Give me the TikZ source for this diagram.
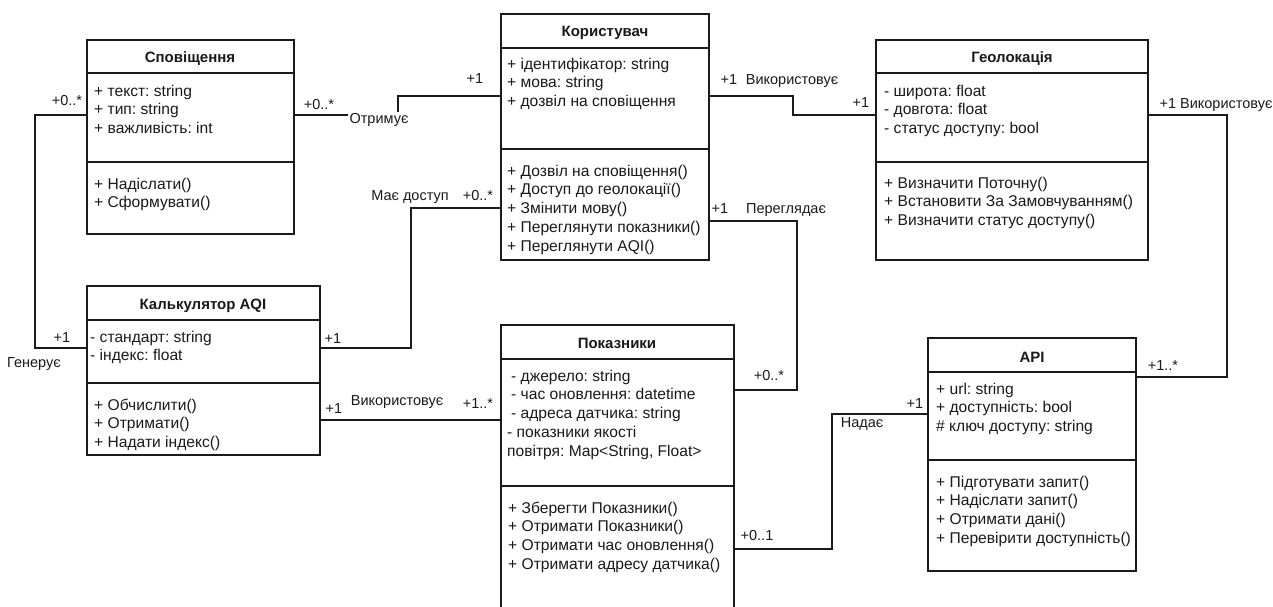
\documentclass[tikz,border=0pt]{standalone}
\usepackage{fontspec}
\setmainfont{Liberation Sans}
\definecolor{ink}{HTML}{1A1A1A}
\frenchspacing
\begin{document}
\begin{tikzpicture}[x=1pt,y=-1pt,
  classbox/.style={draw=ink, line width=1.1pt, fill=white, anchor=north west, inner sep=0pt, outer sep=0pt},
  sep/.style={draw=ink, line width=1.1pt},
  conn/.style={draw=ink, line width=1.1pt},
  title/.style={anchor=base, inner sep=0pt, font=\fontsize{15}{18.8}\selectfont\bfseries, text=ink},
  members/.style={anchor=north west, inner sep=0pt, align=left, font=\fontsize{15.6}{18.8}\selectfont\frenchspacing, text=ink},
  mult/.style={anchor=base, inner sep=0.5pt, font=\fontsize{14.5}{17}\selectfont, text=ink},
]
\fill[white] (0,0) rectangle (1273,607);
\useasboundingbox (0,0) rectangle (1273,607);

% ---------- classes ----------
% Сповіщення
\node[classbox, minimum width=207pt, minimum height=194pt] (spov) at (87,40) {};
\draw[sep] (spov.west |- 0,73) -- (spov.east |- 0,73);
\draw[sep] (spov.west |- 0,162) -- (spov.east |- 0,162);
\node[title] (spov-t) at (190,63) {Сповіщення};
\node[members] (spov-a) at (94,82.8) {\strut+ текст: string\\\strut+ тип: string\\\strut+ важливість: int};
\node[members] (spov-m) at (94,175.8) {\strut+ Надіслати()\\\strut+ Сформувати()};

% Користувач
\node[classbox, minimum width=208pt, minimum height=246pt] (user) at (501,14) {};
\draw[sep] (user.west |- 0,48) -- (user.east |- 0,48);
\draw[sep] (user.west |- 0,149) -- (user.east |- 0,149);
\node[title] (user-t) at (605,37) {Користувач};
\node[members] (user-a) at (507,55.8) {\strut+ ідентифікатор: string\\\strut+ мова: string\\\strut+ дозвіл на сповіщення};
\node[members] (user-m) at (507,162.8) {\strut+ Дозвіл на сповіщення()\\\strut+ Доступ до геолокації()\\\strut+ Змінити мову()\\\strut+ Переглянути показники()\\\strut+ Переглянути AQI()};

% Геолокація
\node[classbox, minimum width=272pt, minimum height=220pt] (geo) at (876,40) {};
\draw[sep] (geo.west |- 0,73) -- (geo.east |- 0,73);
\draw[sep] (geo.west |- 0,162) -- (geo.east |- 0,162);
\node[title] (geo-t) at (1012,63) {Геолокація};
\node[members] (geo-a) at (884,82.8) {\strut- широта: float\\\strut- довгота: float\\\strut- статус доступу: bool};
\node[members] (geo-m) at (884,174.8) {\strut+ Визначити Поточну()\\\strut+ Встановити За Замовчуванням()\\\strut+ Визначити статус доступу()};

% Калькулятор AQI
\node[classbox, minimum width=233pt, minimum height=169pt] (calc) at (87,286) {};
\draw[sep] (calc.west |- 0,320) -- (calc.east |- 0,320);
\draw[sep] (calc.west |- 0,383) -- (calc.east |- 0,383);
\node[title] (calc-t) at (203,309) {Калькулятор AQI};
\node[members] (calc-a) at (90,328.8) {\strut- стандарт: string\\\strut- індекс: float};
\node[members] (calc-m) at (94,396.8) {\strut+ Обчислити()\\\strut+ Отримати()\\\strut+ Надати індекс()};

% Показники
\node[classbox, minimum width=233pt, minimum height=283pt] (pok) at (501,325) {};
\draw[sep] (pok.west |- 0,359) -- (pok.east |- 0,359);
\draw[sep] (pok.west |- 0,486) -- (pok.east |- 0,486);
\node[title] (pok-t) at (617,348) {Показники};
\node[members] (pok-a) at (507,367.8) {\strut\hspace*{4pt}- джерело: string\\\strut\hspace*{4pt}- час оновлення: datetime\\\strut\hspace*{4pt}- адреса датчика: string\\\strut- показники якості\\\strut повітря: Map<String, Float>};
\node[members] (pok-m) at (508,499.8) {\strut+ Зберегти Показники()\\\strut+ Отримати Показники()\\\strut+ Отримати час оновлення()\\\strut+ Отримати адресу датчика()};

% API
\node[classbox, minimum width=208pt, minimum height=233pt] (api) at (928,338) {};
\draw[sep] (api.west |- 0,372) -- (api.east |- 0,372);
\draw[sep] (api.west |- 0,460) -- (api.east |- 0,460);
\node[title] (api-t) at (1032,362) {API};
\node[members] (api-a) at (936,380.8) {\strut+ url: string\\\strut+ доступність: bool\\\strut\# ключ доступу: string};
\node[members] (api-m) at (936,473.8) {\strut+ Підготувати запит()\\\strut+ Надіслати запит()\\\strut+ Отримати дані()\\\strut+ Перевірити доступність()};

% ---------- associations ----------
\draw[conn] (spov.west |- 0,115) -| (35,348) -- (calc.west |- 0,348);
\draw[conn] (spov.east |- 0,115) -| (398,96) -- (user.west |- 0,96);
\draw[conn] (user.west |- 0,208) -| (411,348) -- (calc.east |- 0,348);
\draw[conn] (calc.east |- 0,420) -- (pok.west |- 0,420);
\draw[conn] (user.east |- 0,96) -| (793,115) -- (geo.west |- 0,115);
\draw[conn] (user.east |- 0,221) -| (797,390) -- (pok.east |- 0,390);
\draw[conn] (geo.east |- 0,115) -| (1227,377) -- (api.east |- 0,377);
\draw[conn] (pok.east |- 0,549) -| (832,414) -- (api.west |- 0,414);

% ---------- multiplicities and roles ----------
\node[mult] (m1) at (67,106) {+0..*};
\node[mult] (m2) at (319,110) {+0..*};
\node[mult, fill=white, inner sep=1.5pt] (m3) at (379,124) {Отримує};
\node[mult] (m4) at (475,84) {+1};
\node[mult] (m5) at (410,200) {Має доступ};
\node[mult] (m6) at (478,200) {+0..*};
\node[mult] (m7) at (333,343) {+1};
\node[mult] (m8) at (62,342) {+1};
\node[mult] (m9) at (34,367) {Генерує};
\node[mult] (m10) at (334,413) {+1};
\node[mult] (m11) at (397,405) {Використовує};
\node[mult] (m12) at (478,408) {+1..*};
\node[mult] (m13) at (729,85) {+1};
\node[mult] (m14) at (792,85) {Використовує};
\node[mult] (m15) at (861,108) {+1};
\node[mult] (m16) at (1216,109) {+1 Використовує};
\node[mult] (m17) at (1163,370) {+1..*};
\node[mult] (m18) at (720,213) {+1};
\node[mult] (m19) at (786,213) {Переглядає};
\node[mult] (m20) at (769,380) {+0..*};
\node[mult] (m21) at (757,540) {+0..1};
\node[mult] (m22) at (862,427) {Надає};
\node[mult] (m23) at (915,408) {+1};
\end{tikzpicture}
\end{document}
